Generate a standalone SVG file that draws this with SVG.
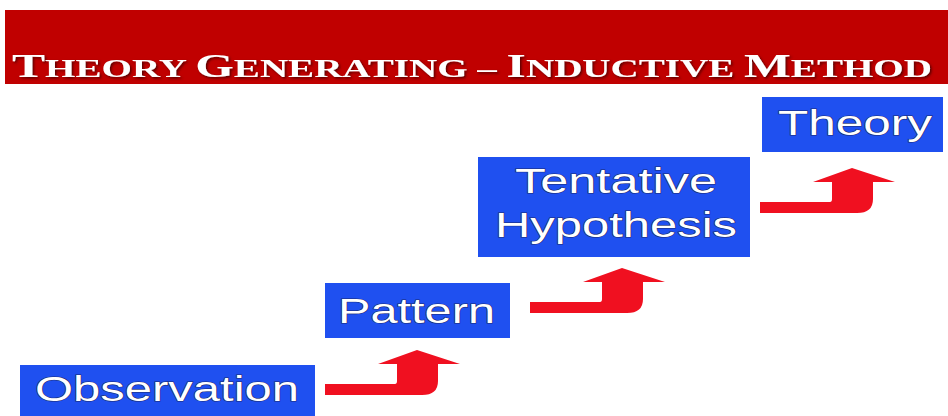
<svg xmlns="http://www.w3.org/2000/svg" width="948" height="416" viewBox="0 0 948 416">
<defs>
<style>
.box{fill:#1f50f0}
.lbl{font-family:"Liberation Sans",Arial,sans-serif;font-size:35px;fill:#ffffff;stroke:#1a2a70;stroke-width:1.2;paint-order:stroke}
.ttl{font-family:"Liberation Serif","Times New Roman",serif;font-weight:bold;fill:#ffffff}
.arrow{fill:#f01020}
</style>
<filter id="sh" x="-5%" y="-20%" width="110%" height="140%">
<feDropShadow dx="1.5" dy="1.5" stdDeviation="0.8" flood-color="#400000" flood-opacity="0.8"/>
</filter>
<path id="arr" d="M0,0 H70 Q72,0 72,-3 V-20 H53 L92,-34 L135,-20 H113 V-3 Q113,11 97,11 H0 Z"/>
</defs>
<rect width="948" height="416" fill="#ffffff"/>
<g id="title">
<rect x="5" y="10" width="943" height="74" fill="#c00000"/>
<text class="ttl" x="12" y="77" textLength="920" lengthAdjust="spacingAndGlyphs" filter="url(#sh)"><tspan font-size="33">T</tspan><tspan font-size="26">HEORY </tspan><tspan font-size="33">G</tspan><tspan font-size="26">ENERATING – </tspan><tspan font-size="33">I</tspan><tspan font-size="26">NDUCTIVE </tspan><tspan font-size="33">M</tspan><tspan font-size="26">ETHOD</tspan></text>
</g>
<g id="connectors">
<use href="#arr" class="arrow" transform="translate(325,384)"/>
<use href="#arr" class="arrow" transform="translate(530,302)"/>
<use href="#arr" class="arrow" transform="translate(760,202)"/>
</g>
<g id="observation">
<rect class="box" x="20" y="365" width="295" height="60"/>
<text class="lbl" x="35" y="401" textLength="264" lengthAdjust="spacingAndGlyphs">Observation</text>
</g>
<g id="pattern">
<rect class="box" x="325" y="283" width="185" height="55"/>
<text class="lbl" x="338" y="323" textLength="157" lengthAdjust="spacingAndGlyphs">Pattern</text>
</g>
<g id="hypothesis">
<rect class="box" x="478" y="157" width="272" height="100"/>
<text class="lbl" x="515" y="193" textLength="202" lengthAdjust="spacingAndGlyphs">Tentative</text>
<text class="lbl" x="495" y="237" textLength="242" lengthAdjust="spacingAndGlyphs">Hypothesis</text>
</g>
<g id="theory">
<rect class="box" x="762" y="97" width="181" height="55"/>
<text class="lbl" x="778" y="135" textLength="154" lengthAdjust="spacingAndGlyphs">Theory</text>
</g>
</svg>
